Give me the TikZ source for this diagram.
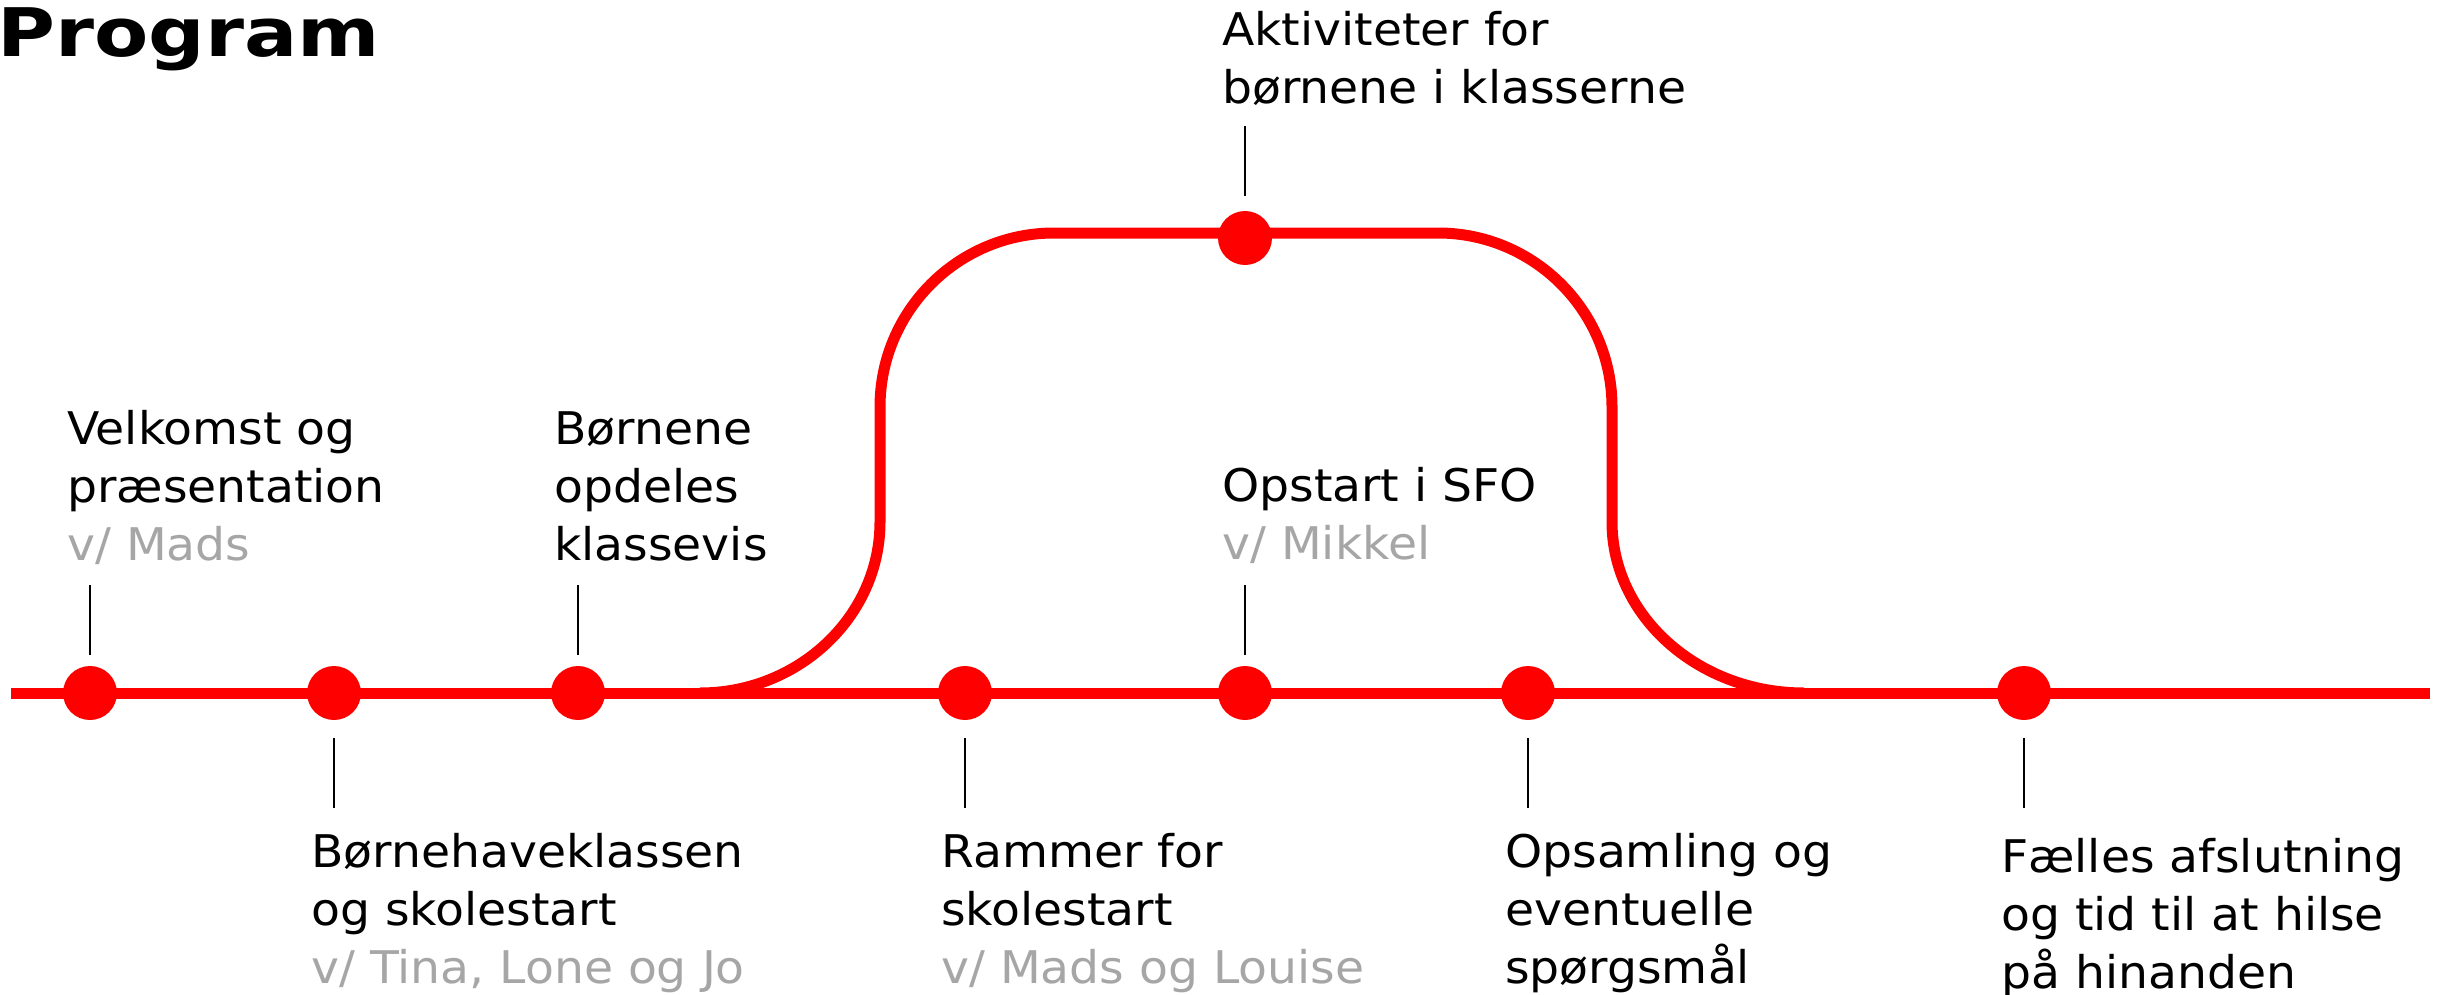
\documentclass[tikz,border=0pt]{standalone}
\usepackage{fontspec}
\setmainfont{DejaVu Sans}
\newfontfamily\bodyfont[FakeStretch=1.05]{DejaVu Sans}
\newfontfamily\titlefont[FakeStretch=1.18]{DejaVu Sans}
\definecolor{trackred}{RGB}{255,0,0}
\definecolor{who}{RGB}{166,166,166}
\tikzset{
  track/.style={draw=trackred, line width=11pt},
  stop/.style={circle, fill=trackred, minimum size=54pt, inner sep=0pt},
  tick/.style={draw=black, line width=1.4pt},
  lbl/.style={inner sep=0pt, align=left, anchor=base west,
    font=\bodyfont\fontsize{45}{58}\selectfont},
}
\begin{document}
\begin{tikzpicture}[x=1pt,y=-1pt]
\useasboundingbox (0,0) rectangle (2438,995);
\node[inner sep=0pt, anchor=base west, font=\titlefont\bfseries\fontsize{67}{80}\selectfont] (title) at (-3,57) {Program};
% track
\draw[track] (11,693) -- (2430,693);
\draw[track] (700,693) .. controls (799,693) and (880,616) .. (880,522)
  -- (880,407) .. controls (880,311) and (958,233) .. (1054,233)
  -- (1438,233) .. controls (1534,233) and (1612,311) .. (1612,407)
  -- (1612,522) .. controls (1612,616) and (1698,693) .. (1804,693);
% stops
\node[stop] (d1) at (90,693) {};
\node[stop] (d2) at (334,693) {};
\node[stop] (d3) at (578,693) {};
\node[stop] (d4) at (965,693) {};
\node[stop] (d5) at (1245,693) {};
\node[stop] (d6) at (1528,693) {};
\node[stop] (d7) at (2024,693) {};
\node[stop] (top) at (1245,238) {};
% ticks
\draw[tick] (d1) ++(0,-38) -- ++(0,-70);
\draw[tick] (d3) ++(0,-38) -- ++(0,-70);
\draw[tick] (d5) ++(0,-38) -- ++(0,-70);
\draw[tick] (top) ++(0,-42) -- ++(0,-70);
\draw[tick] (d2) ++(0,45) -- ++(0,70);
\draw[tick] (d4) ++(0,45) -- ++(0,70);
\draw[tick] (d6) ++(0,45) -- ++(0,70);
\draw[tick] (d7) ++(0,45) -- ++(0,70);
% labels (anchor = baseline of last line)
\node[lbl] (t1) at (67,560) {Velkomst og\\præsentation\\\textcolor{who}{v/ Mads}};
\node[lbl] (t2) at (311,983) {Børnehaveklassen\\og skolestart\\\textcolor{who}{v/ Tina, Lone og Jo}};
\node[lbl] (t3) at (554,560) {Børnene\\opdeles\\klassevis};
\node[lbl] (t4) at (941,983) {Rammer for\\skolestart\\\textcolor{who}{v/ Mads og Louise}};
\node[lbl] (t5) at (1222,559) {Opstart i SFO\\\textcolor{who}{v/ Mikkel}};
\node[lbl] (t6) at (1222,104) {Aktiviteter for\\børnene i klasserne};
\node[lbl] (t7) at (1505,983) {Opsamling og\\eventuelle\\spørgsmål};
\node[lbl] (t8) at (2001,988) {Fælles afslutning\\og tid til at hilse\\på hinanden};
\end{tikzpicture}
\end{document}
